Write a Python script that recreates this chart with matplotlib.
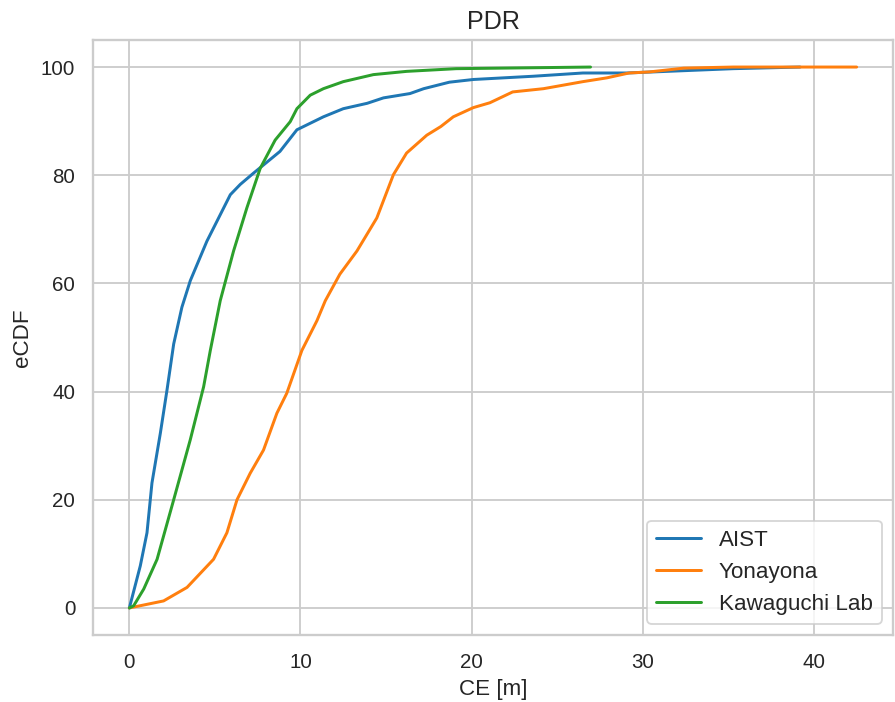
"""eCDF of CE for three PDR implementations."""

import matplotlib

matplotlib.use("Agg")
import matplotlib.pyplot as plt  # noqa: E402
import seaborn as sns  # noqa: E402

# values (CE in metres, eCDF in percent)
aist_ce = [0.0, 0.64, 1.03, 1.32, 1.81, 2.2, 2.59, 3.07, 3.56, 4.53, 5.12, 5.9, 6.48,
           7.26, 7.84, 8.8, 9.79, 11.34, 12.5, 13.9, 14.85, 16.4, 17.2, 18.7, 20.1,
           23.6, 26.5, 29.05, 35.3, 39.2]
aist_cdf = [0.0, 7.8, 13.9, 23.1, 32.3, 40.3, 48.8, 55.6, 60.5, 67.8, 71.5, 76.4, 78.3,
            80.4, 81.9, 84.4, 88.4, 90.8, 92.3, 93.3, 94.3, 95.1, 96.0, 97.2, 97.7,
            98.3, 98.9, 98.9, 99.7, 100.0]

yona_ce = [0.0, 2.0, 3.37, 4.92, 5.7, 6.29, 7.06, 7.84, 8.62, 9.2, 10.08, 10.96, 11.45,
           12.3, 13.3, 14.46, 15.43, 16.2, 17.38, 18.2, 18.93, 20.1, 21.07, 22.4, 24.2,
           26.5, 27.9, 29.2, 30.4, 32.4, 35.3, 42.5]
yona_cdf = [0.0, 1.3, 3.8, 9.0, 13.9, 20.0, 24.9, 29.2, 36.0, 39.7, 47.6, 53.1, 56.8,
            61.7, 66.0, 72.1, 80.1, 84.1, 87.4, 89.0, 90.8, 92.5, 93.4, 95.4, 96.0,
            97.3, 98.0, 98.9, 99.1, 99.8, 100.0, 100.0]

kawa_ce = [0.0, 0.25, 0.84, 1.62, 2.59, 3.56, 4.34, 4.73, 5.31, 6.09, 6.87, 7.65, 8.52,
           9.4, 9.79, 10.57, 11.34, 12.5, 14.26, 16.2, 19.1, 26.95]
kawa_cdf = [0.0, 0.4, 3.5, 9.0, 20.0, 31.1, 40.9, 47.6, 56.8, 66.0, 74.0, 81.3, 86.5,
            89.9, 92.3, 94.8, 96.0, 97.3, 98.6, 99.2, 99.7, 100.0]

series = [
    ("AIST", aist_ce, aist_cdf),
    ("Yonayona", yona_ce, yona_cdf),
    ("Kawaguchi Lab", kawa_ce, kawa_cdf),
]

sns.set_theme(style="whitegrid", palette="tab10")
plt.rcParams["font.family"] = ["Liberation Sans", "DejaVu Sans"]

DPI = 134
fig = plt.figure(figsize=(895 / DPI, 702 / DPI), dpi=DPI)
ax = fig.add_axes([93 / 895, 1 - 635 / 702, 800 / 895, 595 / 702])

for name, ce, cdf in series:
    ax.plot(ce, cdf, label=name, lw=1.6)

ax.set_title("PDR", fontsize=13.5)
ax.set_xlabel("CE [m]")
ax.set_ylabel("eCDF")
ax.legend(loc="lower right", fontsize=12)

fig.savefig("out.png", dpi=DPI)
plt.close(fig)
